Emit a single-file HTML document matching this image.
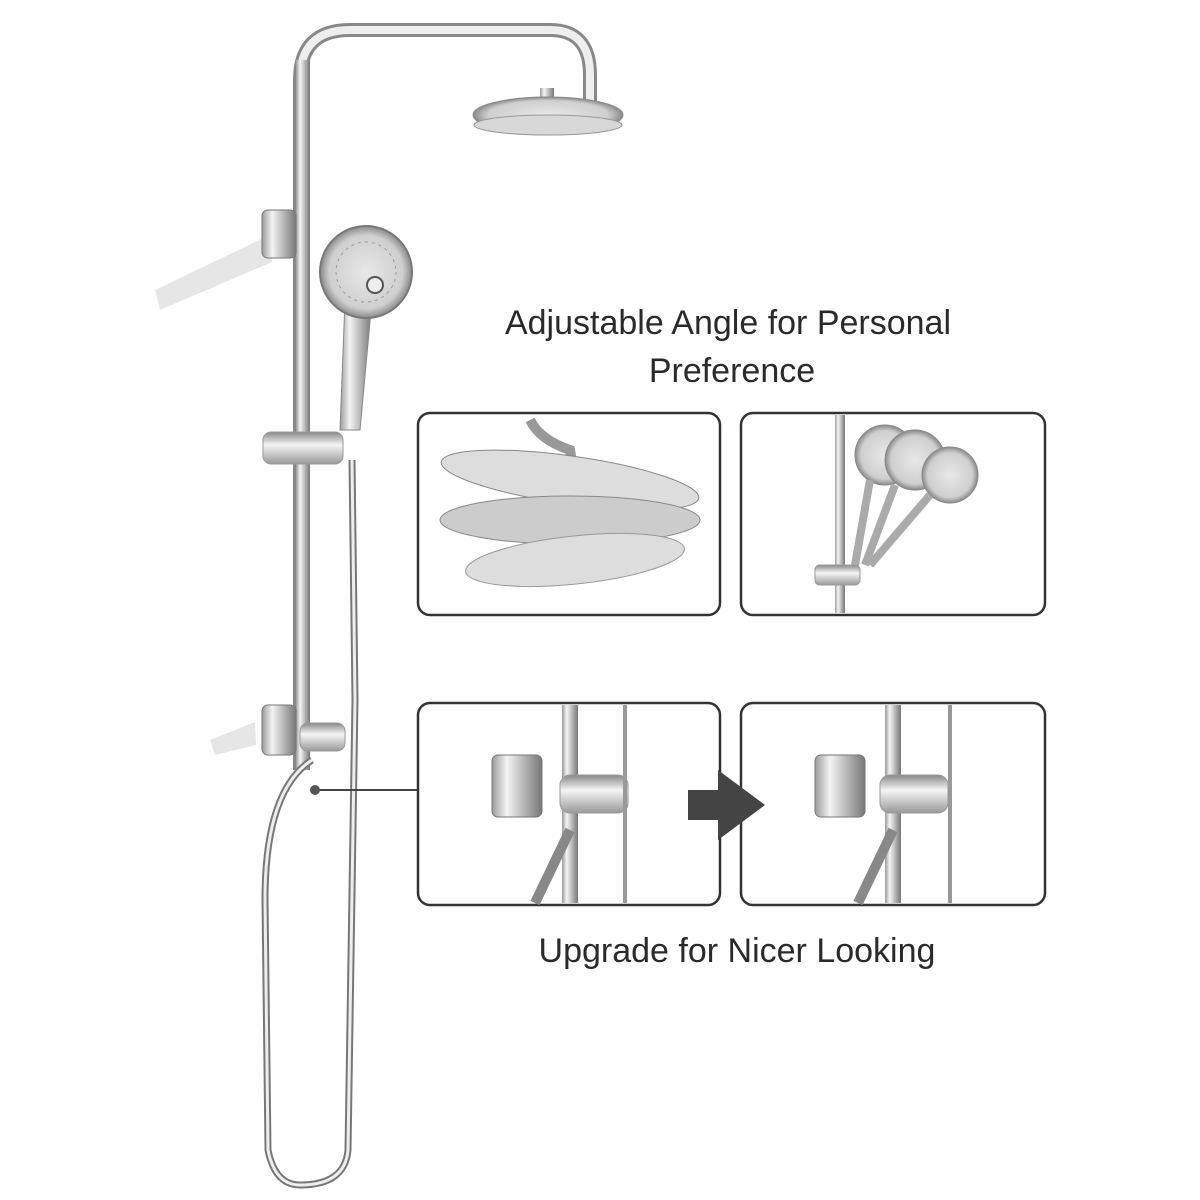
<!DOCTYPE html>
<html><head><meta charset="utf-8"><style>
html,body{margin:0;padding:0;background:#fff;}
svg{display:block}
text{font-family:"Liberation Sans",sans-serif;fill:#2a2a2a;}
</style></head><body>
<svg width="1200" height="1200" viewBox="0 0 1200 1200" xmlns="http://www.w3.org/2000/svg">
<defs>
<linearGradient id="chr" x1="0" x2="1" y1="0" y2="0">
<stop offset="0" stop-color="#9a9a9a"/><stop offset="0.3" stop-color="#f4f4f4"/><stop offset="0.6" stop-color="#bdbdbd"/><stop offset="1" stop-color="#777"/>
</linearGradient>
<linearGradient id="chrv" x1="0" x2="0" y1="0" y2="1">
<stop offset="0" stop-color="#888"/><stop offset="0.4" stop-color="#f5f5f5"/><stop offset="1" stop-color="#999"/>
</linearGradient>
<radialGradient id="head" cx="0.5" cy="0.5" r="0.5">
<stop offset="0" stop-color="#e8e8e8"/><stop offset="0.8" stop-color="#cfcfcf"/><stop offset="1" stop-color="#8a8a8a"/>
</radialGradient>
</defs>

<!-- wall pipe left -->
<path d="M155 290 L270 235 L272 262 L160 310 Z" fill="#e6e6e6"/>
<path d="M210 740 L255 722 L256 745 L215 755 Z" fill="#e6e6e6"/>

<!-- main column -->
<path d="M300 770 L300 80 Q300 30 350 30 L550 30 Q590 30 590 75 L590 105" fill="none" stroke="#888" stroke-width="14"/>
<path d="M300 770 L300 80 Q300 30 350 30 L550 30 Q590 30 590 75 L590 105" fill="none" stroke="#eee" stroke-width="8"/>
<rect x="296" y="60" width="14" height="710" fill="url(#chr)"/>
<!-- rain head -->
<rect x="540" y="88" width="14" height="20" fill="url(#chr)"/>
<ellipse cx="548" cy="115" rx="75" ry="18" fill="url(#head)" stroke="#888"/>
<ellipse cx="548" cy="125" rx="74" ry="10" fill="#d8d8d8" stroke="#999"/>

<!-- brackets -->
<rect x="262" y="210" width="34" height="48" rx="6" fill="url(#chr)" stroke="#777"/>
<rect x="262" y="705" width="34" height="50" rx="6" fill="url(#chr)" stroke="#777"/>
<rect x="300" y="723" width="45" height="28" rx="8" fill="url(#chrv)" stroke="#999"/>
<rect x="263" y="432" width="80" height="32" rx="8" fill="url(#chrv)" stroke="#999"/>

<!-- hand shower -->
<path d="M345 300 L372 300 L360 430 L340 430 Z" fill="url(#chr)" stroke="#888"/>
<circle cx="366" cy="272" r="46" fill="url(#head)" stroke="#777" stroke-width="2"/>
<circle cx="366" cy="272" r="30" fill="none" stroke="#999" stroke-dasharray="3 4"/>
<circle cx="375" cy="285" r="8" fill="#eee" stroke="#555" stroke-width="2"/>

<!-- hose -->
<path d="M312 760 Q265 790 265 900 L268 1150 Q275 1185 300 1185 Q345 1185 348 1150 L355 700 L352 460" fill="none" stroke="#777" stroke-width="7"/>
<path d="M312 760 Q265 790 265 900 L268 1150 Q275 1185 300 1185 Q345 1185 348 1150 L355 700 L352 460" fill="none" stroke="#eee" stroke-width="3"/>

<!-- connector -->
<line x1="315" y1="790" x2="418" y2="790" stroke="#444" stroke-width="2"/>
<circle cx="315" cy="790" r="5" fill="#555"/>

<!-- text -->
<text x="728" y="334" font-size="34" text-anchor="middle">Adjustable Angle for Personal</text>
<text x="732" y="382" font-size="34" text-anchor="middle">Preference</text>
<text x="737" y="962" font-size="34" text-anchor="middle">Upgrade for Nicer Looking</text>

<!-- boxes -->
<g fill="#fff" stroke="#333" stroke-width="2.5">
<rect x="418" y="413" width="302" height="202" rx="12"/>
<rect x="741" y="413" width="304" height="202" rx="12"/>
<rect x="418" y="703" width="302" height="202" rx="12"/>
<rect x="741" y="703" width="304" height="202" rx="12"/>
</g>

<!-- box1 content -->
<path d="M530 420 Q540 440 570 450 L580 510" fill="none" stroke="#999" stroke-width="10"/>
<ellipse cx="570" cy="480" rx="130" ry="24" fill="#ddd" stroke="#888" transform="rotate(8 570 480)"/>
<ellipse cx="570" cy="520" rx="130" ry="24" fill="#ccc" stroke="#888"/>
<ellipse cx="575" cy="560" rx="110" ry="24" fill="#ddd" stroke="#999" transform="rotate(-6 575 560)"/>

<!-- box2 content -->
<rect x="835" y="415" width="10" height="198" fill="url(#chr)"/>
<rect x="815" y="565" width="45" height="20" rx="5" fill="url(#chrv)" stroke="#999"/>
<circle cx="885" cy="455" r="30" fill="url(#head)" stroke="#888"/>
<circle cx="915" cy="460" r="30" fill="url(#head)" stroke="#888"/>
<circle cx="950" cy="475" r="28" fill="url(#head)" stroke="#888"/>
<path d="M870 480 L855 565 M895 485 L865 565 M930 495 L870 565" stroke="#aaa" stroke-width="8"/>

<!-- box3 content -->
<rect x="562" y="705" width="16" height="198" fill="url(#chr)"/>
<rect x="492" y="755" width="50" height="62" rx="6" fill="url(#chr)" stroke="#777"/>
<rect x="560" y="775" width="68" height="38" rx="10" fill="url(#chrv)" stroke="#999"/>
<line x1="625" y1="705" x2="625" y2="903" stroke="#999" stroke-width="4"/>
<path d="M570 830 L535 903" stroke="#888" stroke-width="10"/>

<!-- box4 content -->
<rect x="885" y="705" width="16" height="198" fill="url(#chr)"/>
<rect x="815" y="755" width="50" height="62" rx="6" fill="url(#chr)" stroke="#777"/>
<rect x="880" y="775" width="68" height="38" rx="10" fill="url(#chrv)" stroke="#999"/>
<line x1="950" y1="705" x2="950" y2="903" stroke="#999" stroke-width="4"/>
<path d="M893 830 L858 903" stroke="#888" stroke-width="10"/>

<!-- arrow -->
<path d="M688 790 L718 790 L718 770 L765 805 L718 840 L718 820 L688 820 Z" fill="#444"/>
</svg>
</body></html>
